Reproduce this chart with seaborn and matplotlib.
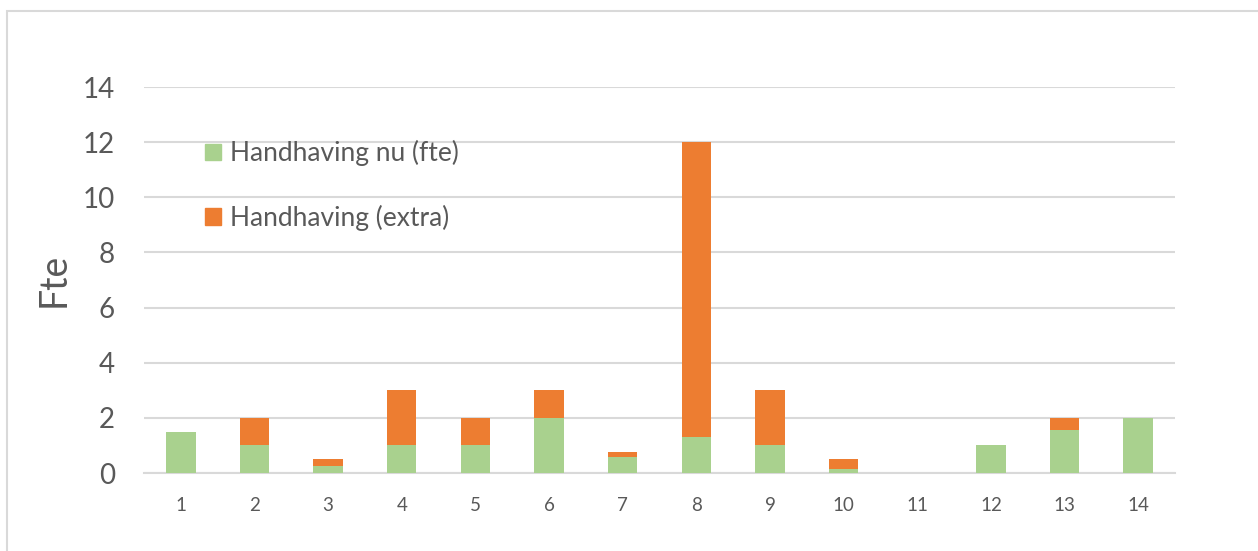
import pandas as pd
import matplotlib.pyplot as plt
import matplotlib.patches as mpatches
import seaborn as sns

categories = ['1', '2', '3', '4', '5', '6', '7', '8', '9', '10', '11', '12', '13', '14']
handhaving_nu = [1.5, 1, 0.25, 1, 1, 2, 0.57, 1.3, 1, 0.13, 0, 1, 1.56, 2]
handhaving_extra = [0, 1, 0.25, 2, 1, 1, 0.2, 10.7, 2, 0.37, 0, 0, 0.44, 0]
y_ticks = [0, 2, 4, 6, 8, 10, 12, 14]

green = '#A9D18E'
orange = '#ED7D31'
text_col = '#595959'
grid_col = '#D9D9D9'

df = pd.DataFrame({'cat': categories, 'nu': handhaving_nu, 'extra': handhaving_extra})
df['totaal'] = df['nu'] + df['extra']

sns.set_style('white')
plt.rcParams['font.family'] = ['Lato', 'DejaVu Sans']

fig = plt.figure(figsize=(12.58, 5.51), dpi=100)
ax = fig.add_axes([144 / 1258, 1 - 473 / 551, (1175 - 144) / 1258, (473 - 87) / 551])

# stacked look: total in orange, current on top in green
sns.barplot(data=df, x='cat', y='totaal', color=orange, width=0.4, saturation=1,
            ax=ax, zorder=3, edgecolor='none')
sns.barplot(data=df, x='cat', y='nu', color=green, width=0.4, saturation=1,
            ax=ax, zorder=4, edgecolor='none')

ax.set_ylim(0, 14)
ax.set_xlim(-0.5, 13.5)
ax.set_yticks(y_ticks)
ax.yaxis.grid(True, color=grid_col, linewidth=1.5, zorder=0)
ax.set_axisbelow(True)
for s in ['top', 'right', 'left']:
    ax.spines[s].set_visible(False)
ax.spines['bottom'].set_color(grid_col)
ax.spines['bottom'].set_linewidth(1.5)
ax.tick_params(axis='both', length=0)
ax.tick_params(axis='y', labelsize=20, labelcolor=text_col, pad=21)
ax.tick_params(axis='x', labelsize=13.5, labelcolor=text_col, pad=17)
ax.set_xlabel('')
ax.set_ylabel('Fte', fontsize=27, color=text_col, labelpad=8)

handles = [mpatches.Patch(color=green, label='Handhaving nu (fte)'),
           mpatches.Patch(color=orange, label='Handhaving (extra)')]
ax.legend(handles=handles, loc='upper left', bbox_to_anchor=(0.059, 0.862),
          frameon=False, fontsize=19, labelcolor=text_col, labelspacing=1.45,
          handlelength=0.6, handleheight=0.6, handletextpad=0.35,
          borderpad=0, borderaxespad=0)

# light frame around the chart, cut off at right and bottom
frame = mpatches.Rectangle((7 / 1258, -0.2), 2, 1.2 - 10.5 / 551, transform=fig.transFigure,
                           fill=False, edgecolor=grid_col, linewidth=1.5, clip_on=False)
fig.patches.append(frame)

fig.savefig('out.png', dpi=100, facecolor='white')
